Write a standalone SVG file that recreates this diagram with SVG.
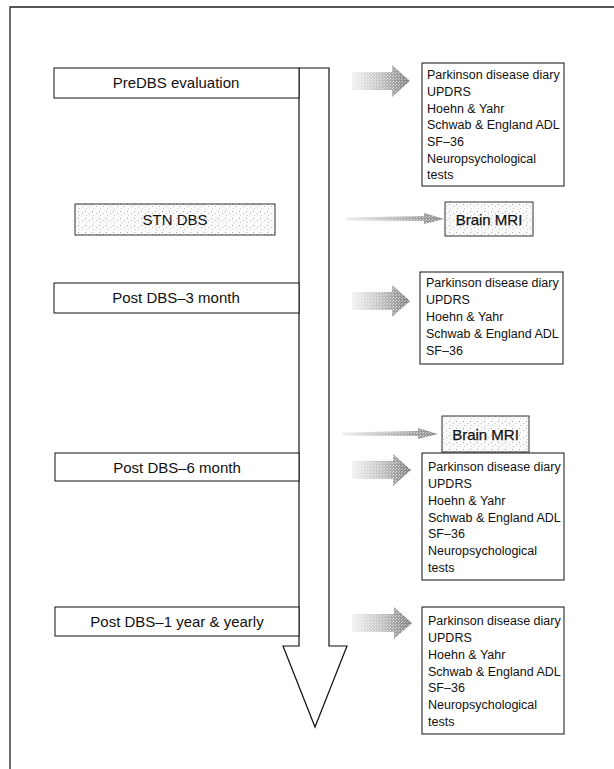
<svg xmlns="http://www.w3.org/2000/svg" width="614" height="769" viewBox="0 0 614 769">
<defs>
<style>
.box{fill:#fff;stroke:#111;stroke-width:1}
.stip{fill:url(#dots);stroke:#333;stroke-width:1}
.lbl{font-family:"Liberation Sans",Arial,sans-serif;font-size:15px;fill:#111;text-anchor:middle}
.lst{font-family:"Liberation Sans",Arial,sans-serif;font-size:12.5px;fill:#111}
.mri{font-family:"Liberation Sans",Arial,sans-serif;font-size:15px;fill:#111;text-anchor:middle;stroke:#111;stroke-width:0.25}
.big{fill:url(#grad);stroke:none}
.spk{fill:url(#dots2);stroke:none}
</style>
<pattern id="dots" width="7" height="7" patternUnits="userSpaceOnUse">
<rect width="7" height="7" fill="#fafafa"/>
<rect x="1" y="1" width="1" height="1" fill="#a8a8a8"/>
<rect x="5" y="3" width="1" height="1" fill="#bdbdbd"/>
<rect x="2" y="5" width="1" height="1" fill="#cccccc"/>
</pattern>
<pattern id="dots2" width="3" height="3" patternUnits="userSpaceOnUse">
<rect x="0" y="0" width="1" height="1" fill="#fff" fill-opacity="0.6"/>
<rect x="2" y="1" width="1" height="1" fill="#fff" fill-opacity="0.5"/>
</pattern>
<linearGradient id="grad" x1="0" y1="0" x2="1" y2="0">
<stop offset="0" stop-color="#f2f2f2"/>
<stop offset="0.5" stop-color="#c4c4c4"/>
<stop offset="1" stop-color="#7e7e7e"/>
</linearGradient>
<linearGradient id="tgrad" x1="0" y1="0" x2="1" y2="0">
<stop offset="0" stop-color="#eeeeee"/>
<stop offset="1" stop-color="#8a8a8a"/>
</linearGradient>
</defs>

<g id="frame" fill="none" stroke="#222" stroke-width="1.3">
<path d="M10,769 L10,7 L614,7"/>
</g>

<g id="connectors">
<g id="timeline">
<path d="M299,68 L329,68 L329,646 L347,646 L315,727 L283,646 L299,646 Z" fill="#fff" stroke="#111" stroke-width="1.2"/>
</g>
<g id="arrow1"><path class="big" d="M352,72 L392,72 L392,65 L410,81 L392,97 L392,90 L352,90 Z"/><path class="spk" d="M352,72 L392,72 L392,65 L410,81 L392,97 L392,90 L352,90 Z"/></g>
<g id="arrow3"><path class="big" d="M352,292 L392,292 L392,285 L410,301 L392,317 L392,310 L352,310 Z"/><path class="spk" d="M352,292 L392,292 L392,285 L410,301 L392,317 L392,310 L352,310 Z"/></g>
<g id="arrow4"><path class="big" d="M352,461 L393,461 L393,454 L411,470 L393,486 L393,479 L352,479 Z"/><path class="spk" d="M352,461 L393,461 L393,454 L411,470 L393,486 L393,479 L352,479 Z"/></g>
<g id="arrow5"><path class="big" d="M352,614 L394,614 L394,607 L412,623 L394,639 L394,632 L352,632 Z"/><path class="spk" d="M352,614 L394,614 L394,607 L412,623 L394,639 L394,632 L352,632 Z"/></g>
<g id="thin1"><path d="M346,217.5 L424,216 L424,213 L444,219 L424,224 L424,221 L346,220.5 Z" fill="url(#tgrad)"/><path class="spk" d="M346,217.5 L424,216 L424,213 L444,219 L424,224 L424,221 L346,220.5 Z"/></g>
<g id="thin2"><path d="M342,432.5 L418,431 L418,428 L438,434 L418,439 L418,436 L342,435.5 Z" fill="url(#tgrad)"/><path class="spk" d="M342,432.5 L418,431 L418,428 L438,434 L418,439 L418,436 L342,435.5 Z"/></g>
</g>

<g id="pre-dbs">
<rect class="box" x="54" y="68" width="245" height="30"/>
<text class="lbl" x="176" y="88">PreDBS evaluation</text>
</g>

<g id="stn-dbs">
<rect class="stip" x="75" y="204" width="200" height="31"/>
<text class="lbl" x="175" y="225">STN DBS</text>
</g>

<g id="post-3">
<rect class="box" x="54" y="283" width="245" height="30"/>
<text class="lbl" x="176" y="303">Post DBS–3 month</text>
</g>

<g id="post-6">
<rect class="box" x="55" y="453" width="244" height="28"/>
<text class="lbl" x="177" y="473">Post DBS–6 month</text>
</g>

<g id="post-1y">
<rect class="box" x="55" y="607" width="244" height="29"/>
<text class="lbl" x="177" y="627">Post DBS–1 year &amp; yearly</text>
</g>

<g id="assess-pre">
<rect class="box" x="422" y="63" width="142" height="123"/>
<text class="lst" x="427"><tspan x="427" y="79">Parkinson disease diary</tspan><tspan x="427" y="96">UPDRS</tspan><tspan x="427" y="112.5">Hoehn &amp; Yahr</tspan><tspan x="427" y="129">Schwab &amp; England ADL</tspan><tspan x="427" y="146">SF–36</tspan><tspan x="427" y="162.5">Neuropsychological</tspan><tspan x="427" y="179">tests</tspan></text>
</g>

<g id="mri-1">
<rect class="stip" x="445" y="202" width="88" height="34"/>
<text class="mri" x="489" y="225">Brain MRI</text>
</g>

<g id="assess-3">
<rect class="box" x="420" y="272" width="143" height="92"/>
<text class="lst"><tspan x="426" y="287">Parkinson disease diary</tspan><tspan x="426" y="304">UPDRS</tspan><tspan x="426" y="321">Hoehn &amp; Yahr</tspan><tspan x="426" y="338">Schwab &amp; England ADL</tspan><tspan x="426" y="355">SF–36</tspan></text>
</g>

<g id="mri-2">
<rect class="stip" x="442" y="416" width="87" height="36"/>
<text class="mri" x="485.5" y="440">Brain MRI</text>
</g>

<g id="assess-6">
<rect class="box" x="422" y="453" width="142" height="127"/>
<text class="lst"><tspan x="428" y="471">Parkinson disease diary</tspan><tspan x="428" y="488">UPDRS</tspan><tspan x="428" y="505">Hoehn &amp; Yahr</tspan><tspan x="428" y="521.5">Schwab &amp; England ADL</tspan><tspan x="428" y="538">SF–36</tspan><tspan x="428" y="555">Neuropsychological</tspan><tspan x="428" y="572">tests</tspan></text>
</g>

<g id="assess-1y">
<rect class="box" x="422" y="607" width="142" height="127"/>
<text class="lst"><tspan x="428" y="625">Parkinson disease diary</tspan><tspan x="428" y="642">UPDRS</tspan><tspan x="428" y="659">Hoehn &amp; Yahr</tspan><tspan x="428" y="675.5">Schwab &amp; England ADL</tspan><tspan x="428" y="692">SF–36</tspan><tspan x="428" y="709">Neuropsychological</tspan><tspan x="428" y="726">tests</tspan></text>
</g>
</svg>
